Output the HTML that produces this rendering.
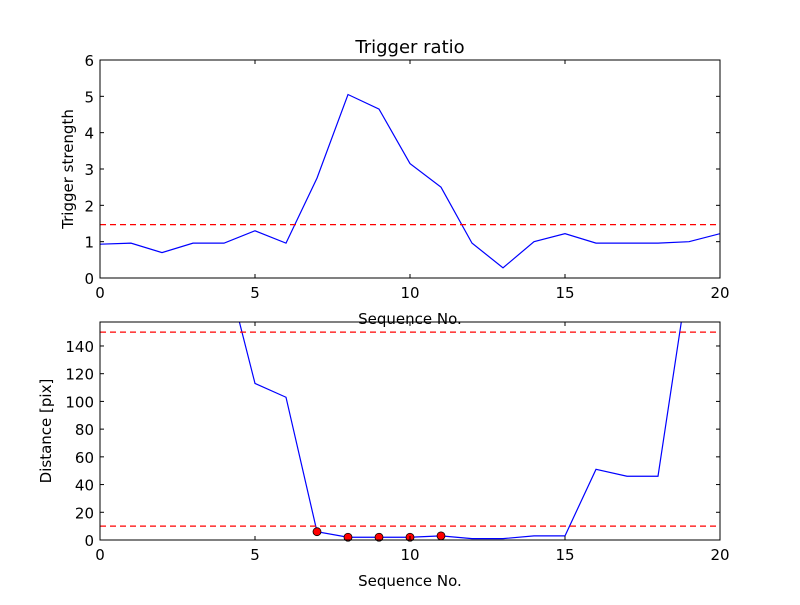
<!DOCTYPE html>
<html><head><meta charset="utf-8"><style>
body{margin:0;background:#fff;}
svg text{font-family:"DejaVu Sans","Liberation Sans",sans-serif;fill:#000;}
</style></head><body>
<svg id="fig" width="800" height="600" xmlns="http://www.w3.org/2000/svg">
<rect width="800" height="600" fill="#fff"/>
<g id="top"></g>
<g id="bot"></g>
</svg>
<script>
const seq = [0,1,2,3,4,5,6,7,8,9,10,11,12,13,14,15,16,17,18,19,20];
const strength = [0.93,0.96,0.7,0.96,0.96,1.3,0.96,2.75,5.05,4.65,3.15,2.5,0.96,0.28,1.0,1.22,0.96,0.96,0.96,1.0,1.22];
const strengthThreshold = [1.47];
const topYTicks = [0,1,2,3,4,5,6];
const xTicks = [0,5,10,15,20];
const distSeq = [0,1,2,3,4,5,6,7,8,9,10,11,12,13,14,15,16,17,18,19];
const distance = [200,200,200,200,201,113,103,6,2,2,2,3,1,1,3,3,51,46,46,194];
const markedSeq = [7,8,9,10,11];
const markedDist = [6,2,2,2,3];
const distThresholds = [10,150];
const botYTicks = [0,20,40,60,80,100,120,140];
const NS="http://www.w3.org/2000/svg";
function mk(parent,tag,attrs,name,txt){const e=document.createElementNS(NS,tag);for(const k in attrs)e.setAttribute(k,attrs[k]);


if(txt!==undefined)e.textContent=txt;parent.appendChild(e);return e;}
function panel(g,top,bottom,ymin,ymax,yticks,yl,id){
 const L=100,R=720;
 const sx=v=>L+(v-0)/(20-0)*(R-L);
 const sy=v=>bottom-(v-ymin)/(ymax-ymin)*(bottom-top);
 const cp=mk(g,'clipPath',{id:id},'clip');
 mk(cp,'rect',{x:L,y:top,width:R-L,height:bottom-top},'clip-rect');
 return {sx,sy,L,R,top,bottom,cp:'url(#'+id+')',yticks,yl};
}
function axes(g,p,title){
 mk(g,'rect',{x:p.L,y:p.top,width:p.R-p.L,height:p.bottom-p.top,fill:'none',stroke:'#000','stroke-width':1},'plot-frame');
 xTicks.forEach(t=>{const x=p.sx(t);
  mk(g,'line',{x1:x,x2:x,y1:p.bottom,y2:p.bottom-4,stroke:'#000'},'x-tick');
  mk(g,'line',{x1:x,x2:x,y1:p.top,y2:p.top+4,stroke:'#000'},'x-tick');
  mk(g,'text',{x:x,y:p.bottom+20,'font-size':15,'text-anchor':'middle'},'x-tick-label',t);});
 p.yticks.forEach(t=>{const y=p.sy(t);
  mk(g,'line',{x1:p.L,x2:p.L+4,y1:y,y2:y,stroke:'#000'},'y-tick');
  mk(g,'line',{x1:p.R,x2:p.R-4,y1:y,y2:y,stroke:'#000'},'y-tick');
  mk(g,'text',{x:p.L-6,y:y+6,'font-size':15,'text-anchor':'end'},'y-tick-label',t);});
 mk(g,'text',{x:410,y:p.bottom+46,'font-size':15,'text-anchor':'middle'},'x-axis-title','Sequence No.');
 const yc=(p.top+p.bottom)/2;
 mk(g,'text',{x:p.yl,y:yc,'font-size':15,'text-anchor':'middle',transform:`rotate(-90 ${p.yl} ${yc})`},'y-axis-title',title);
}
const gt=document.getElementById('top');
const pt=panel(gt,60,278,0,6,topYTicks,73,'ct');
mk(gt,'polyline',{points:seq.map((s,i)=>pt.sx(s)+','+pt.sy(strength[i])).join(' '),fill:'none',stroke:'#0000ff','stroke-width':1.2,'clip-path':pt.cp},'trigger-strength-line');
strengthThreshold.forEach(v=>mk(gt,'line',{x1:pt.L,x2:pt.R,y1:pt.sy(v),y2:pt.sy(v),stroke:'#ff0000','stroke-width':1.2,'stroke-dasharray':'6,4'},'threshold-line'));
axes(gt,pt,'Trigger strength');
mk(gt,'text',{x:410,y:53,'font-size':18,'text-anchor':'middle'},'chart-title','Trigger ratio');
const gb=document.getElementById('bot');
const pb=panel(gb,322,540,0,157.3,botYTicks,51,'cb');
mk(gb,'polyline',{points:distSeq.map((s,i)=>pb.sx(s)+','+pb.sy(distance[i])).join(' '),fill:'none',stroke:'#0000ff','stroke-width':1.2,'clip-path':pb.cp},'distance-line');
distThresholds.forEach(v=>mk(gb,'line',{x1:pb.L,x2:pb.R,y1:pb.sy(v),y2:pb.sy(v),stroke:'#ff0000','stroke-width':1.2,'stroke-dasharray':'6,4'},'threshold-line'));
markedSeq.forEach((s,i)=>mk(gb,'circle',{cx:pb.sx(s),cy:pb.sy(markedDist[i]),r:4,fill:'#ff0000',stroke:'#000','stroke-width':0.8},'marked-point'));
axes(gb,pb,'Distance [pix]');
</script>
</body></html>
